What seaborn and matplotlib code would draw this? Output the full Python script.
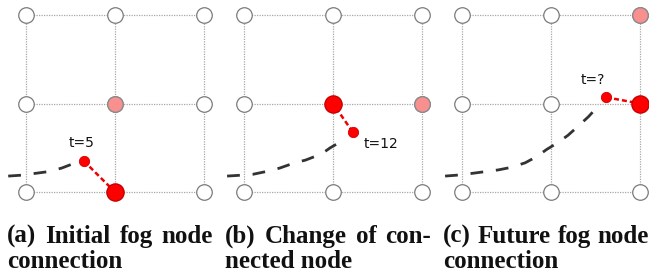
import numpy as np
import pandas as pd
import matplotlib
matplotlib.use("Agg")
import matplotlib.pyplot as plt
import seaborn as sns

sns.set_theme(style="white")
plt.rcParams['font.family'] = ['DejaVu Sans']

# 3x3 grid of fog nodes
grid_x = [0, 1, 2]
grid_y = [0, 1, 2]

# per panel: connected node, next node, device position, trajectory, label
connected = [(1, 0), (1, 1), (2, 1)]
next_node = [(1, 1), (2, 1), (2, 2)]
device = [(0.65, 0.35), (1.22, 0.68), (1.62, 1.07)]
labels = ["t=5", "t=12", "t=?"]
label_pos = [(0.62, 0.55), (1.34, 0.54), (1.47, 1.27)]
label_ha = ["center", "left", "center"]

traj_x = [
    [-0.20, -0.05, 0.10, 0.25, 0.40, 0.53],
    [-0.19, -0.03, 0.10, 0.29, 0.40, 0.57, 0.69, 0.87, 0.97, 1.08],
    [-0.19, -0.06, 0.11, 0.26, 0.41, 0.56, 0.71, 0.84, 0.95, 1.08, 1.19, 1.29, 1.42, 1.53],
]
traj_y = [
    [0.18, 0.19, 0.21, 0.23, 0.27, 0.32],
    [0.18, 0.19, 0.20, 0.24, 0.27, 0.33, 0.36, 0.43, 0.50, 0.565],
    [0.18, 0.19, 0.21, 0.23, 0.25, 0.28, 0.33, 0.40, 0.48, 0.56, 0.64, 0.73, 0.85, 0.97],
]

captions = [
    ["(a) Initial fog node", "connection"],
    ["(b) Change of con-", "nected node"],
    ["(c) Future fog node", "connection"],
]

W, H = 649, 273
fig = plt.figure(figsize=(W / 100, H / 100), dpi=100)

gx, gy = np.meshgrid(grid_x, grid_y)
nodes = pd.DataFrame({"x": gx.ravel(), "y": gy.ravel()})

for i in range(3):
    left = 218 * i
    width = min(218, W - left)
    ax = fig.add_axes([left / W, (H - 205) / H, width / W, 205 / H])
    ax.set_xlim(-26 / 89, (width - 26) / 89)
    ax.set_ylim(-13 / 88.5, 192 / 88.5)
    ax.axis("off")

    for v in grid_x:
        ax.plot([v, v], [grid_y[0], grid_y[-1]], color="#a8a8a8", lw=0.9,
                ls=(0, (1, 1)), zorder=1)
    for v in grid_y:
        ax.plot([grid_x[0], grid_x[-1]], [v, v], color="#a8a8a8", lw=0.9,
                ls=(0, (1, 1)), zorder=1)

    sns.scatterplot(data=nodes, x="x", y="y", s=125, color="white",
                    edgecolor="#7a7a7a", linewidth=0.9, ax=ax, zorder=3,
                    clip_on=False, legend=False)
    sns.scatterplot(x=[next_node[i][0]], y=[next_node[i][1]], s=125,
                    color="#f89090", edgecolor="#8a8a8a", linewidth=0.9,
                    ax=ax, zorder=4, clip_on=False, legend=False)
    sns.scatterplot(x=[connected[i][0]], y=[connected[i][1]], s=155,
                    color="#ff0000", edgecolor="#c00000", linewidth=0.9,
                    ax=ax, zorder=5, clip_on=False, legend=False)

    traj = pd.DataFrame({"x": traj_x[i], "y": traj_y[i]})
    sns.lineplot(data=traj, x="x", y="y", sort=False, color="#333333",
                 lw=2.0, ax=ax, zorder=2, estimator=None)
    ax.lines[-1].set_linestyle((0, (4.6, 4.6)))

    link = pd.DataFrame({"x": [device[i][0], connected[i][0]],
                         "y": [device[i][1], connected[i][1]]})
    sns.lineplot(data=link, x="x", y="y", sort=False, color="#ee0000",
                 lw=1.8, ax=ax, zorder=4, estimator=None)
    ax.lines[-1].set_linestyle((0, (2, 1.2)))
    sns.scatterplot(x=[device[i][0]], y=[device[i][1]], s=55,
                    color="#ff0000", edgecolor="#d00000", linewidth=0.6,
                    ax=ax, zorder=6, legend=False)

    ax.text(label_pos[i][0], label_pos[i][1], labels[i], fontsize=10,
            ha=label_ha[i], va="center", color="#111111")

# captions, first line justified across the column
cap_font = dict(family="Liberation Serif", weight="bold", size=18, color="#111111")
fig.canvas.draw()
renderer = fig.canvas.get_renderer()
col_w = 206
for i in range(3):
    x0 = 7 + 218 * i
    words = captions[i][0].split(" ")
    texts = [fig.text(0, 0, w, **cap_font) for w in words]
    widths = [t.get_window_extent(renderer).width for t in texts]
    gap = (col_w - sum(widths)) / (len(words) - 1)
    x = x0
    for t, w in zip(texts, widths):
        t.set_position((x / W, (H - 243) / H))
        t.set_va("baseline")
        x += w + gap
    fig.text(x0 / W, (H - 268) / H, captions[i][1], va="baseline", **cap_font)

fig.savefig("out.png", dpi=100)
